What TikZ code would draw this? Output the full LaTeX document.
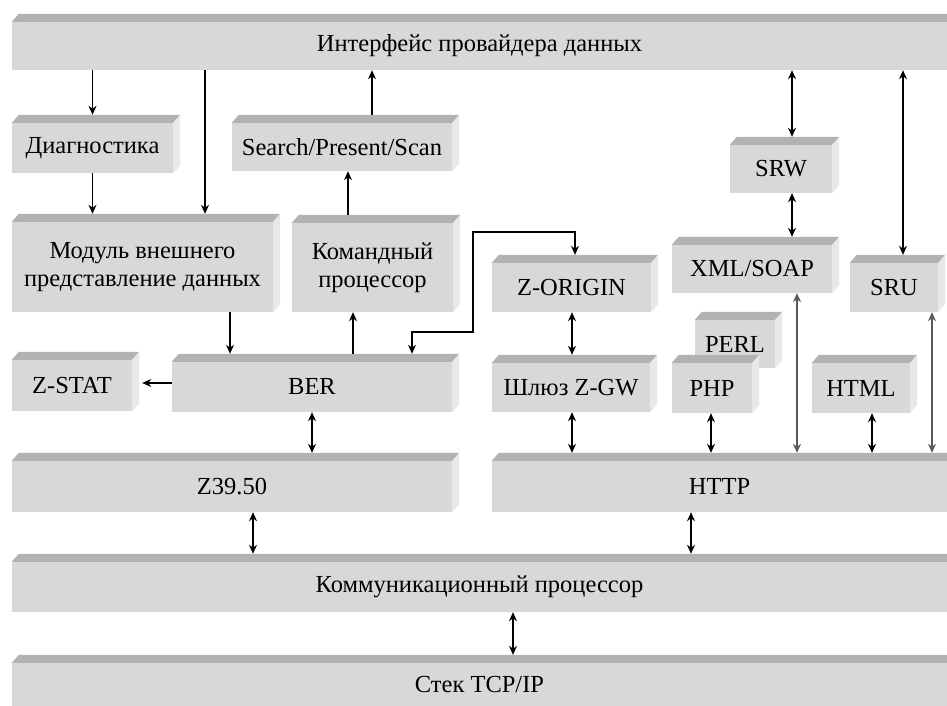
\documentclass[tikz,border=0pt]{standalone}
\usepackage{fontspec}
\setmainfont{Liberation Serif}
\usetikzlibrary{arrows.meta}
\definecolor{lice}{RGB}{216,216,216}
\definecolor{verh}{RGB}{178,178,178}
\definecolor{bok}{RGB}{232,232,232}
\tikzset{
  blok/.style={fill=lice, inner sep=0pt, align=center, font=\fontsize{24.5}{28}\selectfont},
  strel/.style={line width=1.2pt, -{Stealth[length=9pt,width=8pt]}},
  dvo/.style={line width=1.2pt, {Stealth[length=9pt,width=8pt]}-{Stealth[length=9pt,width=8pt]}},
  ontop/.style={shorten >=8pt},
  fromtop/.style={shorten <=8pt},
  seryj/.style={draw=black!65}
}
\begin{document}
\begin{tikzpicture}[x=1pt,y=-1pt]
\useasboundingbox (0,0) rectangle (947,706);
\clip (0,0) rectangle (947,706);
% bloki
\node[blok, minimum width=935pt, minimum height=48pt] (inter) at (479.5,46) {Интерфейс провайдера данных};
\node[blok, minimum width=161pt, minimum height=50pt] (diag) at (92.5,148) {Диагностика};
\node[blok, minimum width=220pt, minimum height=48pt] (sps) at (342,147) {Search/Present/Scan};
\node[blok, minimum width=261pt, minimum height=90pt] (modul) at (142.5,267) {Модуль внешнего\\представление данных};
\node[blok, minimum width=161pt, minimum height=89pt] (kom) at (372.5,267.5) {Командный\\процессор};
\node[blok, minimum width=102pt, minimum height=48pt] (srw) at (781,169) {SRW};
\node[blok, minimum width=160pt, minimum height=48pt] (xml) at (752,269) {XML/SOAP};
\node[blok, minimum width=159pt, minimum height=49pt] (zorig) at (571.5,287.5) {Z-ORIGIN};
\node[blok, minimum width=88pt, minimum height=49pt] (sru) at (894,287.5) {SRU};
\node[blok, minimum width=80pt, minimum height=48pt] (perl) at (735,344) {PERL};
\node[blok, minimum width=120pt, minimum height=51pt] (zstat) at (72,385.5) {Z-STAT};
\node[blok, minimum width=280pt, minimum height=50pt] (ber) at (312,387) {BER};
\node[blok, minimum width=158pt, minimum height=49pt] (zgw) at (571,387.5) {Шлюз Z-GW};
\node[blok, minimum width=80pt, minimum height=50pt] (php) at (712,388) {PHP};
\node[blok, minimum width=98pt, minimum height=50pt] (html) at (861,388) {HTML};
\node[blok, minimum width=440pt, minimum height=51pt] (z3950) at (232,486.5) {Z39.50};
\node[blok, minimum width=455pt, minimum height=51pt] (http) at (719.5,486.5) {HTTP};
\node[blok, minimum width=935pt, minimum height=50pt] (komm) at (479.5,587) {Коммуникационный процессор};
\node[blok, minimum width=935pt, minimum height=44pt] (tcp) at (479.5,685) {Стек TCP/IP};
% ob'em
\foreach \n in {inter,diag,sps,modul,kom,srw,xml,zorig,sru,perl,zstat,ber,zgw,php,html,z3950,http,komm,tcp}{
  \fill[verh] (\n.north west) -- ++(7,-8) -- ([shift={(7pt,8pt)}]\n.north east) -- (\n.north east) -- cycle;
  \fill[bok] (\n.north east) -- ++(7,-8) -- ([shift={(7pt,8pt)}]\n.south east) -- (\n.south east) -- cycle;
}
% strelki
\draw[strel, ontop] (inter.south -| diag) -- (diag.north);
\draw[strel, ontop] (diag.south) -- (modul.north -| diag);
\draw[strel, ontop] (inter.south -| 205,0) -- (modul.north -| 205,0);
\draw[strel, fromtop] (sps.north -| 372,0) -- (inter.south -| 372,0);
\draw[strel, fromtop] (kom.north -| 348,0) -- (sps.south -| 348,0);
\draw[strel, ontop] (modul.south -| 230,0) -- (ber.north -| 230,0);
\draw[strel, fromtop] (ber.north -| 353,0) -- (kom.south -| 353,0);
\draw[dvo, shorten <=8pt, shorten >=8pt] (ber.north -| 412,0) |- (473,332) |- (575,232) -- (zorig.north -| 575,0);
\draw[strel, shorten >=10pt] (ber.west |- 0,383) -- (zstat.east |- 0,383);
\draw[dvo, ontop] (ber.south -| 312,0) -- (z3950.north -| 312,0);
\draw[dvo, ontop] (zorig.south -| 572,0) -- (zgw.north -| 572,0);
\draw[dvo, ontop] (zgw.south -| 572,0) -- (http.north -| 572,0);
\draw[dvo, ontop] (inter.south -| 792,0) -- (srw.north -| 792,0);
\draw[dvo, ontop] (srw.south -| 792,0) -- (xml.north -| 792,0);
\draw[dvo, ontop] (inter.south -| 903,0) -- (sru.north -| 903,0);
\draw[dvo, ontop, seryj] (xml.south -| 797,0) -- (http.north -| 797,0);
\draw[dvo, ontop] (php.south -| 711,0) -- (http.north -| 711,0);
\draw[dvo, ontop] (html.south -| 872,0) -- (http.north -| 872,0);
\draw[dvo, ontop, seryj] (sru.south -| 932,0) -- (http.north -| 932,0);
\draw[dvo, ontop] (z3950.south -| 253,0) -- (komm.north -| 253,0);
\draw[dvo, ontop] (http.south -| 691,0) -- (komm.north -| 691,0);
\draw[dvo, ontop] (komm.south -| 513,0) -- (tcp.north -| 513,0);
\end{tikzpicture}
\end{document}
